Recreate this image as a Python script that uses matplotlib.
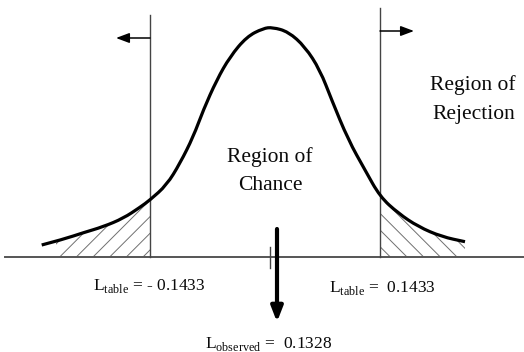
import matplotlib
matplotlib.use("Agg")
import matplotlib.pyplot as plt
from matplotlib.path import Path
from matplotlib.patches import PathPatch, Rectangle

plt.rcParams['mathtext.fontset'] = 'custom'
plt.rcParams['mathtext.rm'] = 'Liberation Serif'
plt.rcParams['hatch.linewidth'] = 0.7

# bell curve (pixel-like coordinates, y down)
curve_x = [41.7, 63.3, 83.3, 103.3, 123.3, 140, 150, 166.7, 180, 193.3, 203.3, 216.7,
           230, 246.7, 263.3, 272.5, 288.3, 305, 320, 331.7, 348.3, 365, 380, 398.3,
           418.3, 441.7, 465]
curve_y = [245, 239.3, 232.7, 226.7, 218.3, 207.3, 200, 185, 163.3, 136.7, 110, 80,
           56.7, 36.7, 28.3, 27.3, 31.7, 46.7, 70, 100, 140, 170, 196.7, 213.3,
           226.7, 236.7, 241.7]

baseline_y = 257
crit_left = 150
crit_right = 380
observed_x = 277

labels_left = "- 0.1433"
labels_right = " 0.1433"
labels_obs = " 0.1328"

fig = plt.figure(figsize=(5.24, 3.52), dpi=100)
ax = fig.add_axes([0, 0, 1, 1])
ax.set_xlim(0, 524)
ax.set_ylim(352, 0)
ax.axis('off')

# smooth curve: quadratic spline through midpoints
verts = [(curve_x[0], curve_y[0])]
codes = [Path.MOVETO]
for i in range(1, len(curve_x) - 1):
    mx = (curve_x[i] + curve_x[i + 1]) / 2
    my = (curve_y[i] + curve_y[i + 1]) / 2
    verts += [(curve_x[i], curve_y[i]), (mx, my)]
    codes += [Path.CURVE3, Path.CURVE3]
verts.append((curve_x[-1], curve_y[-1]))
codes.append(Path.LINETO)
ax.add_patch(PathPatch(Path(verts, codes), facecolor='none', edgecolor='black',
                       lw=2.3, capstyle='butt', zorder=5))

# hatched tails
lx = [x for x in curve_x if x <= crit_left]
ly = curve_y[:len(lx)]
left_fill = ax.fill_between(lx, ly, baseline_y, facecolor='none', edgecolor='#707070',
                            hatch='//', linewidth=0, zorder=2)
clip_rect = Rectangle((56, 0), 200, 352, transform=ax.transData, visible=False)
ax.add_patch(clip_rect)
left_fill.set_clip_path(clip_rect)
rx = [x for x in curve_x if x >= crit_right]
ry = curve_y[len(curve_x) - len(rx):]
ax.fill_between(rx, ry, baseline_y, facecolor='none', edgecolor='#707070',
                hatch='\\\\', linewidth=0, zorder=2)

# baseline and critical lines
ax.plot([5, 524], [baseline_y, baseline_y], color='#555555', lw=1.4, zorder=3)
ax.plot([crit_left, crit_left], [15, baseline_y], color='#444444', lw=1.0, zorder=3)
ax.plot([crit_right, crit_right], [8, baseline_y], color='#444444', lw=1.0, zorder=3)

# direction arrows
ax.annotate('', xy=(116, 38), xytext=(crit_left, 38),
            arrowprops=dict(arrowstyle='-|>,head_length=0.8,head_width=0.3',
                            color='black', lw=1.1, shrinkA=0, shrinkB=0))
ax.annotate('', xy=(414, 31), xytext=(crit_right, 31),
            arrowprops=dict(arrowstyle='-|>,head_length=0.8,head_width=0.3',
                            color='black', lw=1.1, shrinkA=0, shrinkB=0))

# observed marker
ax.plot([270, 270], [247, 268], color='#444444', lw=1.0, zorder=3)
ax.annotate('', xy=(observed_x, 322), xytext=(observed_x, 229),
            arrowprops=dict(arrowstyle='-|>,head_length=0.9,head_width=0.35',
                            color='black', lw=3.0, shrinkA=0, shrinkB=0), zorder=6)

serif = 'Liberation Serif'
tc = '#0a0a0a'
ax.text(270, 157, 'Region of', family=serif, fontsize=15.5, ha='center', va='center', color=tc)
ax.text(270, 186, 'Chance', family=serif, fontsize=15.5, ha='center', va='center', color=tc)
ax.text(473, 85, 'Region of', family=serif, fontsize=15.5, ha='center', va='center', color=tc)
ax.text(474, 115, 'Rejection', family=serif, fontsize=15.5, ha='center', va='center', color=tc)

ax.text(93, 290, r'L$_{\mathrm{table}}$ = ' + labels_left, family=serif, fontsize=12.5,
        ha='left', va='baseline', color=tc)
ax.text(329, 292, r'L$_{\mathrm{table}}$ = ' + labels_right, family=serif, fontsize=12.5,
        ha='left', va='baseline', color=tc)
ax.text(205, 348, r'L$_{\mathrm{observed}}$ = ' + labels_obs, family=serif, fontsize=12.5,
        ha='left', va='baseline', color=tc)

fig.savefig('out.png', dpi=100)
